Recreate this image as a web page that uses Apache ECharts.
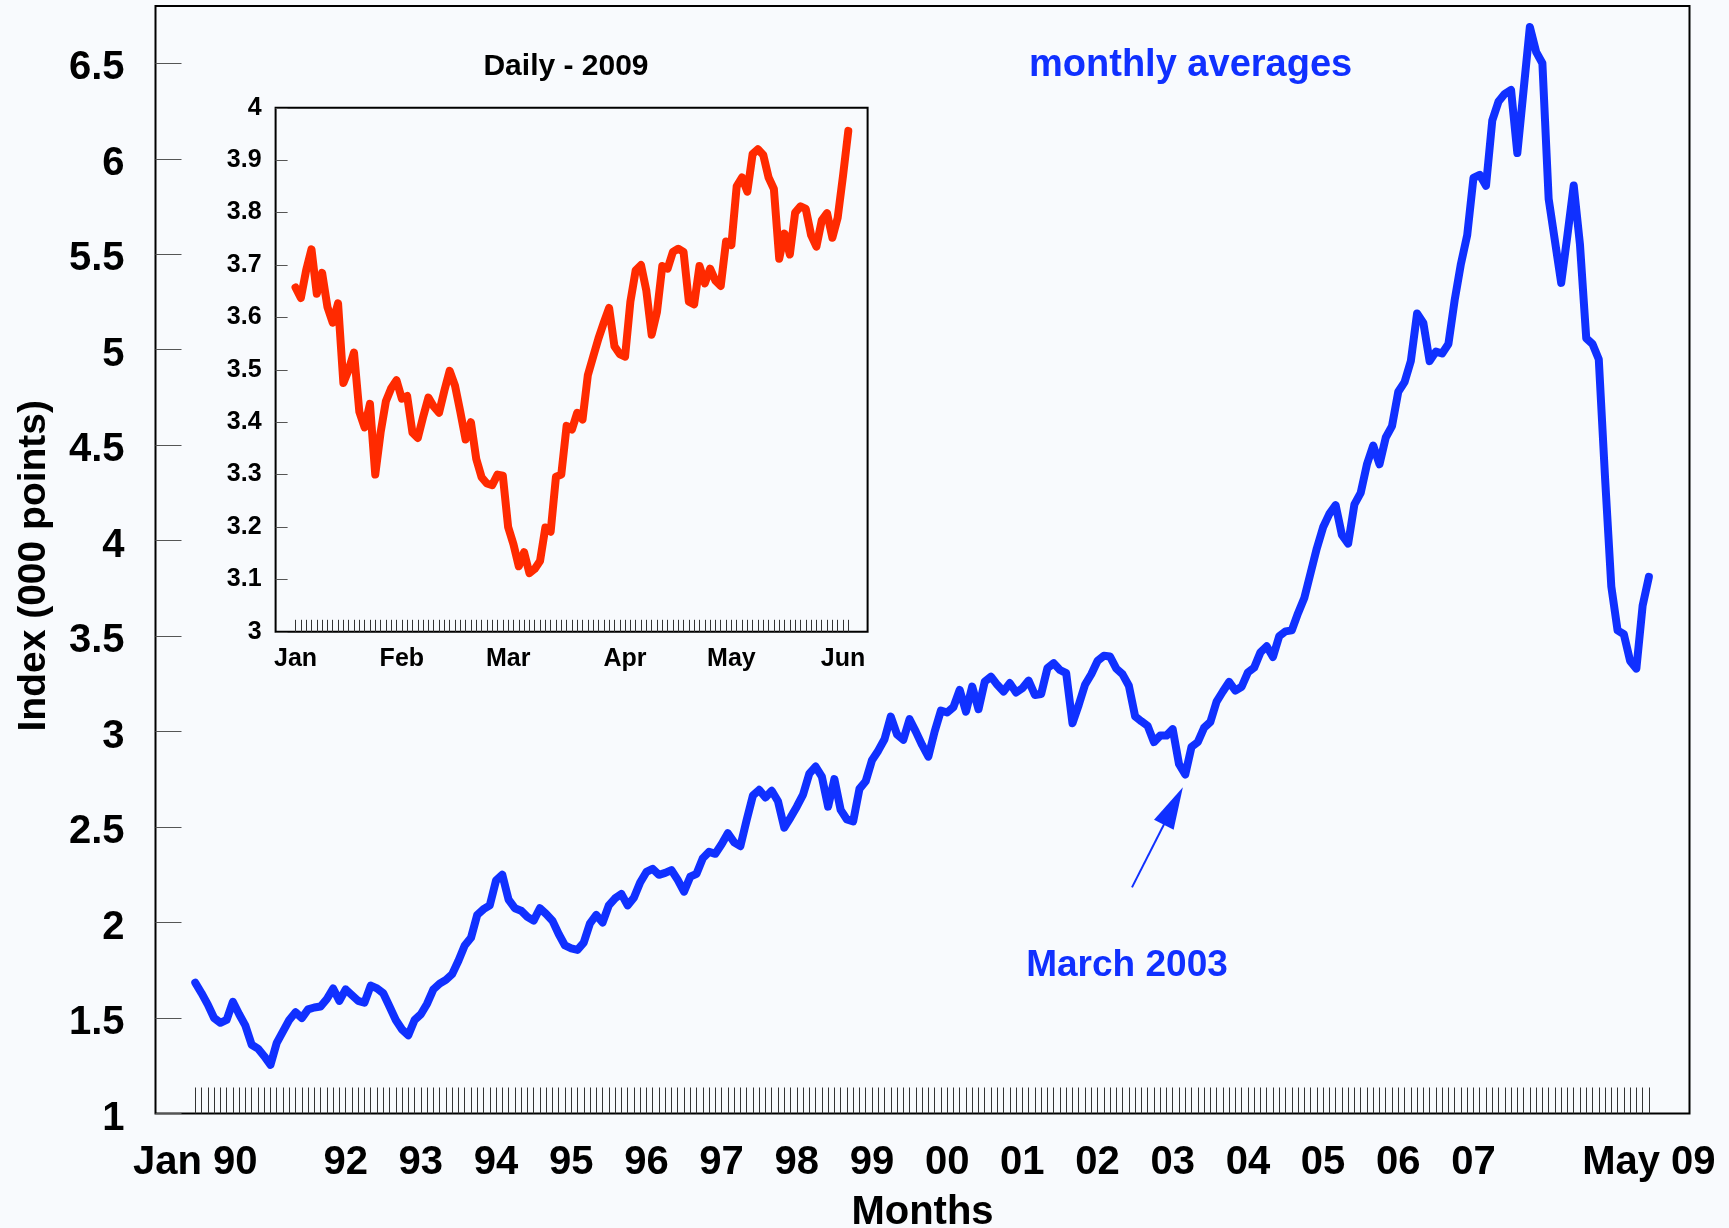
<!DOCTYPE html>
<html><head><meta charset="utf-8">
<script src="https://cdn.jsdelivr.net/npm/echarts/dist/echarts.min.js"></script>
<style>html,body{margin:0;padding:0;background:#f8fafd}#c{width:1729px;height:1228px}</style>
</head><body><div id="c"></div>
<script>
// Monthly averages, Jan 1990 .. May 2009 (index points, thousands)
const monthlyValues = [
1.685,1.63,1.57,1.50,1.475,1.49,1.585,1.52,1.46,1.36,1.34,1.30,
1.255,1.37,1.43,1.49,1.53,1.50,1.545,1.555,1.56,1.60,1.655,1.59,
1.65,1.62,1.59,1.58,1.67,1.655,1.63,1.56,1.49,1.44,1.41,1.49,
1.52,1.575,1.65,1.68,1.70,1.73,1.80,1.88,1.92,2.04,2.07,2.09,
2.22,2.25,2.12,2.075,2.062,2.03,2.01,2.075,2.045,2.01,1.94,1.88,
1.865,1.857,1.895,1.996,2.04,2.00,2.09,2.127,2.15,2.09,2.13,2.21,
2.265,2.281,2.25,2.26,2.275,2.223,2.162,2.24,2.255,2.337,2.37,2.36,
2.41,2.468,2.42,2.40,2.537,2.665,2.695,2.655,2.69,2.635,2.497,2.55,
2.607,2.67,2.78,2.817,2.764,2.607,2.751,2.59,2.54,2.53,2.70,2.74,
2.85,2.90,2.96,3.079,2.985,2.957,3.065,3.00,2.93,2.869,3.00,3.11,
3.10,3.128,3.218,3.105,3.236,3.117,3.262,3.288,3.245,3.21,3.254,3.205,
3.227,3.267,3.192,3.197,3.332,3.358,3.323,3.306,3.044,3.14,3.245,3.30,
3.37,3.397,3.393,3.33,3.30,3.24,3.08,3.054,3.03,2.945,2.979,2.979,
3.013,2.83,2.775,2.92,2.945,3.02,3.05,3.157,3.21,3.26,3.215,3.235,
3.31,3.335,3.415,3.447,3.391,3.50,3.525,3.53,3.62,3.70,3.83,3.96,
4.07,4.14,4.186,4.03,3.985,4.19,4.25,4.40,4.498,4.40,4.54,4.60,
4.78,4.83,4.94,5.19,5.14,4.94,4.99,4.98,5.03,5.26,5.45,5.60,
5.90,5.916,5.858,6.20,6.30,6.34,6.36,6.03,6.36,6.69,6.56,6.50,
5.79,5.57,5.35,5.60,5.86,5.55,5.06,5.03,4.95,4.33,3.76,3.53,
3.51,3.37,3.33,3.66,3.81
];
const monthlyTickIndex = [0,24,36,48,60,72,84,96,108,120,132,144,156,168,180,192,204,232];
const monthlyTickLabels = ['Jan 90','92','93','94','95','96','97','98','99','00','01','02','03','04','05','06','07','May 09'];
const monthlyYTicks = [1,1.5,2,2.5,3,3.5,4,4.5,5,5.5,6,6.5];

// Daily closes, trading days 2 Jan 2009 .. 2 Jun 2009
const dailyValues = [
3.657,3.637,3.69,3.73,3.645,3.685,3.62,3.59,3.627,3.475,3.50,3.533,3.42,3.39,3.435,3.30,3.38,3.44,3.465,3.48,
3.445,3.45,3.38,3.37,3.41,3.447,3.43,3.418,3.46,3.498,3.47,3.42,3.367,3.40,3.33,3.295,3.283,3.28,3.30,3.298,
3.20,3.167,3.125,3.152,3.112,3.12,3.135,3.199,3.191,3.296,3.30,3.393,3.386,3.418,3.405,3.49,3.525,3.56,3.59,3.618,3.545,3.53,
3.525,3.63,3.69,3.70,3.651,3.567,3.61,3.698,3.693,3.725,3.731,3.725,3.63,3.625,3.698,3.665,3.693,3.67,3.66,3.745,
3.738,3.85,3.867,3.84,3.912,3.921,3.91,3.867,3.845,3.712,3.76,3.72,3.80,3.812,3.807,3.757,3.735,3.785,3.799,3.752,3.79,
3.87,3.956
];
const dailyTickIndex = [0,20,40,62,82,103];
const dailyTickLabels = ['Jan','Feb','Mar','Apr','May','Jun'];
const dailyYTicks = [3,3.1,3.2,3.3,3.4,3.5,3.6,3.7,3.8,3.9,4];

// Annotation arrow (month index, value)
const arrowFrom = [149.5, 2.184];
const arrowTo = [156.1, 2.61];

const BLUE = '#1030ff';
const RED = '#ff2a00';
const FONT = '"Liberation Sans", Arial, Helvetica, sans-serif';

function lookup(idxArr, labArr, v) {
  const r = Math.round(v);
  const k = idxArr.indexOf(r);
  return (k >= 0 && Math.abs(v - r) < 1e-6) ? labArr[k] : '';
}
const fmtNum = v => String(Math.round(v * 10) / 10);

const monthIdx = monthlyValues.map((_, i) => i);
const dayIdx = dailyValues.map((_, i) => i);

const chart = echarts.init(document.getElementById('c'), null, {renderer: 'canvas'});
chart.setOption({
  backgroundColor: '#f8fafd',
  animation: false,
  grid: [
    {left: 155.5, right: 39.5, top: 6, bottom: 114.5, show: true, borderColor: '#000', borderWidth: 2,
      backgroundColor: 'transparent', outerBoundsMode: 'none', containLabel: false},
    {left: 275.6, right: 861.4, top: 107.8, bottom: 596.2, show: true, borderColor: '#000', borderWidth: 2,
      backgroundColor: 'transparent', outerBoundsMode: 'none', containLabel: false}
  ],
  xAxis: [
    {gridIndex: 0, type: 'value', min: -6.35, max: 238.48,
      axisLine: {show: false, onZero: false}, splitLine: {show: false},
      axisTick: {show: true, inside: true, length: 26, customValues: monthIdx, lineStyle: {color: '#333', width: 1}},
      axisLabel: {show: true, margin: 29, fontSize: 40, fontWeight: 'bold', fontFamily: FONT, color: '#000',
        customValues: monthlyTickIndex, hideOverlap: false,
        formatter: v => lookup(monthlyTickIndex, monthlyTickLabels, v)},
      name: 'Months', nameLocation: 'middle', nameGap: 79,
      nameTextStyle: {fontSize: 40, fontWeight: 'bold', fontFamily: FONT, color: '#000'}},
    {gridIndex: 1, type: 'value', min: -3.75, max: 107.63,
      axisLine: {show: false, onZero: false}, splitLine: {show: false},
      axisTick: {show: true, inside: true, length: 12, customValues: dayIdx, lineStyle: {color: '#333', width: 1}},
      axisLabel: {show: true, margin: 15, fontSize: 25, fontWeight: 'bold', fontFamily: FONT, color: '#000',
        customValues: dailyTickIndex, hideOverlap: false,
        formatter: v => lookup(dailyTickIndex, dailyTickLabels, v)}}
  ],
  yAxis: [
    {gridIndex: 0, type: 'value', min: 1, max: 6.8,
      axisLine: {show: false, onZero: false}, splitLine: {show: false},
      axisTick: {show: true, inside: true, length: 26, customValues: monthlyYTicks, lineStyle: {color: '#555', width: 1}},
      axisLabel: {margin: 31, fontSize: 40, fontWeight: 'bold', fontFamily: FONT, color: '#000',
        customValues: monthlyYTicks, hideOverlap: false, verticalAlign: 'top', lineHeight: 10, formatter: fmtNum},
      name: 'Index (000 points)', nameLocation: 'middle', nameGap: 102, nameRotate: 90, nameMoveOverlap: false,
      nameTextStyle: {fontSize: 39, fontWeight: 'bold', fontFamily: FONT, color: '#000', padding: [0, 12, 0, 0]}},
    {gridIndex: 1, type: 'value', min: 3, max: 4,
      axisLine: {show: false, onZero: false}, splitLine: {show: false},
      axisTick: {show: true, inside: true, length: 12, customValues: dailyYTicks, lineStyle: {color: '#555', width: 1}},
      axisLabel: {margin: 14, fontSize: 25, fontWeight: 'bold', fontFamily: FONT, color: '#000',
        customValues: dailyYTicks, hideOverlap: false, formatter: fmtNum}}
  ],
  graphic: [
    {type: 'text', x: 566, y: 67, silent: true,
      style: {text: 'Daily - 2009', fill: '#000', font: 'bold 30px ' + FONT, align: 'center', verticalAlign: 'middle'}},
    {type: 'text', x: 1190.6, y: 65.8, silent: true,
      style: {text: 'monthly averages', fill: BLUE, font: 'bold 38px ' + FONT, align: 'center', verticalAlign: 'middle'}},
    {type: 'text', x: 1127, y: 965.4, silent: true,
      style: {text: 'March 2003', fill: BLUE, font: 'bold 37px ' + FONT, align: 'center', verticalAlign: 'middle'}}
  ],
  series: [
    {type: 'line', xAxisIndex: 0, yAxisIndex: 0, showSymbol: false, symbol: 'none',
      data: monthlyValues.map((v, i) => [i, v]),
      lineStyle: {color: BLUE, width: 8, cap: 'round', join: 'round'},
      itemStyle: {color: BLUE}, z: 3,
      markLine: {silent: true, animation: false, symbol: ['none', 'triangle'], symbolSize: [0, 1],
        label: {show: false}, lineStyle: {color: BLUE, width: 2, type: 'solid'}, emphasis: {disabled: true},
        data: [[{coord: arrowFrom, symbol: 'none'}, {coord: arrowTo, symbol: 'triangle', symbolSize: [22, 42]}]]}},
    {type: 'line', xAxisIndex: 1, yAxisIndex: 1, showSymbol: false, symbol: 'none',
      data: dailyValues.map((v, i) => [i, v]),
      lineStyle: {color: RED, width: 8, cap: 'round', join: 'round'},
      itemStyle: {color: RED}, z: 3}
  ]
});
</script>
</body></html>
